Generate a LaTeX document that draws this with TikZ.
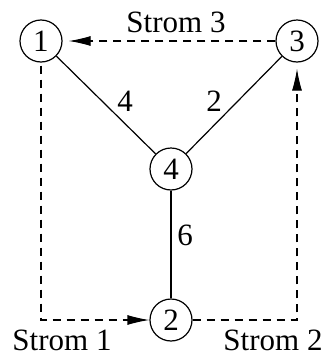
\documentclass[tikz,border=0pt]{standalone}
\usepackage{fontspec}
\setmainfont{Liberation Serif}
\usetikzlibrary{arrows.meta}

\begin{document}
\begin{tikzpicture}[x=0.5pt,y=-0.5pt,font=\fontsize{15.5}{18}\selectfont,line width=0.6pt]
      \useasboundingbox (0,0) rectangle (323,354);
      \tikzset{knot/.style={draw,circle,minimum size=21pt,inner sep=0pt},
        strom/.style={dash pattern=on 4pt off 3pt,-{Latex[length=11pt,width=5pt]}}}
      \node[knot] at (41,41) (node 1) {1};
      \node[knot] at (297,41) (node 3) {3};
      \node[knot] at (171,169) (node 4) {4};
      \node[knot] at (171,320) (node 2) {2};
      \draw (node 1) -- (node 4);
      \draw (node 3) -- (node 4);
      \draw (node 4) -- (node 2);
      \draw[strom,shorten <=1.5pt] (node 1.south) |- (node 2.west);
      \draw[strom,shorten >=3pt] (node 2.east) -| (node 3.south);
      \draw[strom,shorten >=3pt] (node 3.west) -- (node 1.east);
      \node at (176,22) (strom 3) {Strom 3};
      \node at (62,340) (strom 1) {Strom 1};
      \node at (273,340) (strom 2) {Strom 2};
      \node at (125,101) (w 14) {4};
      \node at (214,101) (w 34) {2};
      \node at (185,235) (w 42) {6};
    \end{tikzpicture}
\end{document}
